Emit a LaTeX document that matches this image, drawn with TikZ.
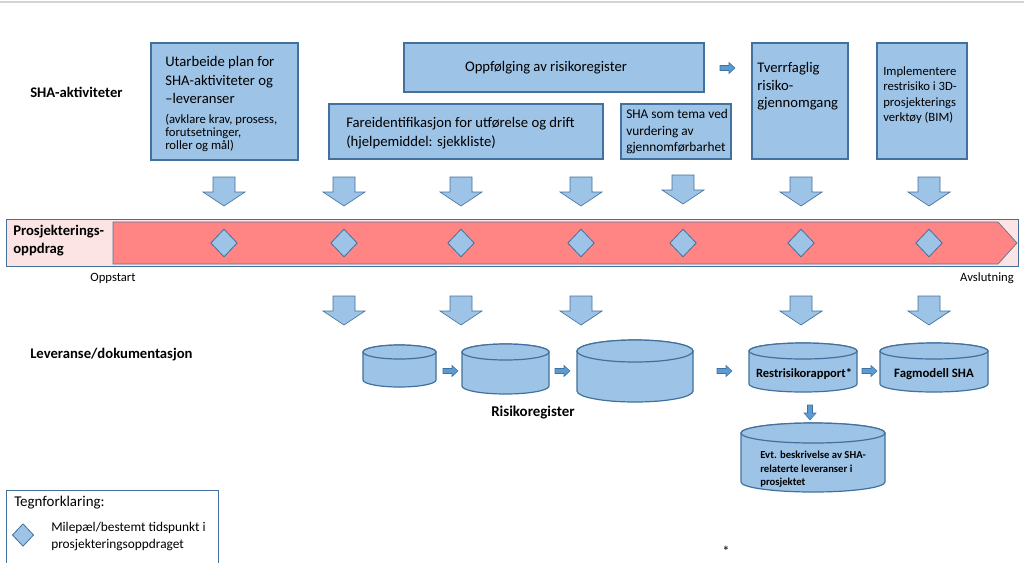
\documentclass[tikz,border=0pt]{standalone}
\usepackage{fontspec}
\setmainfont{Carlito}
\usetikzlibrary{shapes.geometric}
\definecolor{boxfill}{HTML}{9DC3E6}
\definecolor{boxline}{HTML}{41719C}
\definecolor{redfill}{HTML}{FF8585}
\definecolor{pinkfill}{HTML}{FCE4E4}
\definecolor{smallarr}{HTML}{5B9BD5}
\definecolor{topline}{HTML}{D4D4D4}
\newcommand\blkdown[2]{%
  \draw[blkarrow] (#1-11,#2) -- (#1+11,#2) -- (#1+11,#2+15) -- (#1+21,#2+15) -- (#1,#2+29) -- (#1-21,#2+15) -- (#1-11,#2+15) -- cycle;}
\newcommand\smallright[2]{%
  \draw[smallarrow] (#1,#2-2.5) -- (#1+9,#2-2.5) -- (#1+9,#2-5.5) -- (#1+15,#2) -- (#1+9,#2+5.5) -- (#1+9,#2+2.5) -- (#1,#2+2.5) -- cycle;}
\newcommand\cylshape[6]{% name, x1, x2, ytop, ybot, ry
  \draw[cylstyle] (#2,#4+#6) -- (#2,#5-#6) arc[start angle=180, end angle=0, x radius={(#3-#2)/2}, y radius=#6] -- (#3,#4+#6) arc[start angle=0, end angle=-180, x radius={(#3-#2)/2}, y radius=#6] -- cycle;
  \draw[cylstyle] ({(#2+#3)/2},#4+#6) ellipse[x radius={(#3-#2)/2}, y radius=#6];
  \coordinate (#1) at ({(#2+#3)/2},{(#4+#5)/2+#6/2});}
\begin{document}
\begin{tikzpicture}[x=0.75pt, y=-0.75pt,
  box/.style={draw=boxline, fill=boxfill, line width=0.9pt},
  blkarrow/.style={draw=boxline, fill=boxfill, line width=0.5pt},
  smallarrow/.style={draw=boxline, fill=smallarr, line width=0.4pt},
  cylstyle/.style={draw=boxline, fill=boxfill, line width=0.9pt},
  mile/.style={diamond, draw=boxline, fill=boxfill, line width=0.6pt, minimum width=20pt, minimum height=21pt, inner sep=0pt},
  txt/.style={inner sep=0pt, align=left, anchor=north west},
  big/.style={font=\fontsize{11}{14}\selectfont},
  lbl/.style={inner sep=0pt, font=\bfseries\fontsize{11}{13.5}\selectfont}
]
\useasboundingbox (0,0) rectangle (1024,562);
\clip (0,0) rectangle (1024,562);
\draw[topline, line width=1.2pt] (0,2) -- (1024,2);

% Row labels
\node[lbl, anchor=west] (lsha) at (30,92) {SHA-aktiviteter};
\node[lbl, anchor=west] (llev) at (30,355) {Leveranse/dokumentasjon};

% Activity boxes
\draw[box] (151,43) rectangle (298,160);
\node[txt, big] (t1) at (165,56) {Utarbeide plan for\\SHA-aktiviteter og\\–leveranser};
\node[txt, font=\fontsize{9.5}{9.8}\selectfont] (t1b) at (165,114) {(avklare krav, prosess,\\forutsetninger,\\roller og mål)};

\draw[box] (404,43) rectangle (704,92);
\node[inner sep=0pt, big] (t2) at (546,68) {Oppfølging av risikoregister};

\draw[box] (329,104) rectangle (603,159);
\node[txt, big] (t3) at (346,117) {Fareidentifikasjon for utførelse og drift\\(hjelpemiddel: sjekkliste)};

\draw[box] (621,104) rectangle (731,159);
\node[txt, font=\fontsize{10}{12.4}\selectfont] (t4) at (626,109) {SHA som tema ved\\vurdering av\\gjennomførbarhet};

\smallright{720}{68}

\draw[box] (752,43) rectangle (848,159);
\node[txt, font=\fontsize{11}{13.2}\selectfont] (t5) at (757,62) {Tverrfaglig\\risiko-\\gjennomgang};

\draw[box] (877,43) rectangle (967,159);
\node[txt, font=\fontsize{9.5}{11.6}\selectfont] (t6) at (883,66) {Implementere\\restrisiko i 3D-\\prosjekterings\\verktøy (BIM)};

% Down arrows above bar
\foreach \x in {224,344,461,581,801,929} {\blkdown{\x}{177}}
\blkdown{683}{175}

% Bar
\draw[draw=boxline, fill=pinkfill, line width=0.6pt] (6,219) rectangle (1018,266);
\draw[draw=boxline!70!gray, fill=redfill, line width=0.5pt] (113,222) -- (998,222) -- (1017,243) -- (998,264) -- (113,264) -- cycle;
\node[txt, font=\bfseries\fontsize{11}{13.5}\selectfont] (lbar) at (13,225) {Prosjekterings-\\oppdrag};
\foreach \x [count=\i] in {224,344,461,581,683,801,929} {\node[mile] (m\i) at (\x,243) {};}
\node[inner sep=0pt, font=\fontsize{9.5}{10}\selectfont] (start) at (113,278) {Oppstart};
\node[inner sep=0pt, font=\fontsize{9.5}{10}\selectfont] (slutt) at (987,278) {Avslutning};

% Down arrows below bar
\foreach \x in {344,461,581,801,929} {\blkdown{\x}{296}}

% Cylinders
\cylshape{c1}{363}{436}{345}{387}{7}
\smallright{443}{371}
\cylshape{c2}{462}{549}{344}{394}{8}
\smallright{555}{371}
\cylshape{c3}{577}{693}{340}{402}{11}
\node[inner sep=0pt, font=\bfseries\fontsize{11.2}{12}\selectfont] (rr) at (533,413) {Risikoregister};
\smallright{717}{371}
\cylshape{c4}{749}{857}{343}{392}{8}
\node[inner sep=0pt, font=\bfseries\fontsize{9.4}{11}\selectfont] (t7) at (804,374) {Restrisikorapport*};
\smallright{862}{371}
\cylshape{c5}{880}{988}{343}{392}{8}
\node[inner sep=0pt, font=\bfseries\fontsize{9.6}{11}\selectfont] (t8) at (934,374) {Fagmodell SHA};
\draw[smallarrow] (807.5,405) -- (812.5,405) -- (812.5,413) -- (816,413) -- (810,420) -- (804,413) -- (807.5,413) -- cycle;
\cylshape{c6}{741}{885}{423}{492}{10}
\node[txt, font=\bfseries\fontsize{8}{10}\selectfont] (t9) at (760,451) {Evt. beskrivelse av SHA-\\relaterte leveranser i\\prosjektet};

% Legend
\draw[draw=boxline, line width=0.6pt] (6,490) rectangle (218,575);
\node[inner sep=0pt, anchor=west, font=\fontsize{11.2}{12}\selectfont] (leg) at (14,503) {Tegnforklaring:};
\node[mile, minimum width=16pt, minimum height=17pt] (legd) at (23,535) {};
\node[txt, font=\fontsize{10}{12.75}\selectfont] (legt) at (51,522) {Milepæl/bestemt tidspunkt i\\prosjekteringsoppdraget};

\node[inner sep=0pt, anchor=north, font=\fontsize{11}{12}\selectfont] (ast) at (726,546) {*};
\end{tikzpicture}
\end{document}
